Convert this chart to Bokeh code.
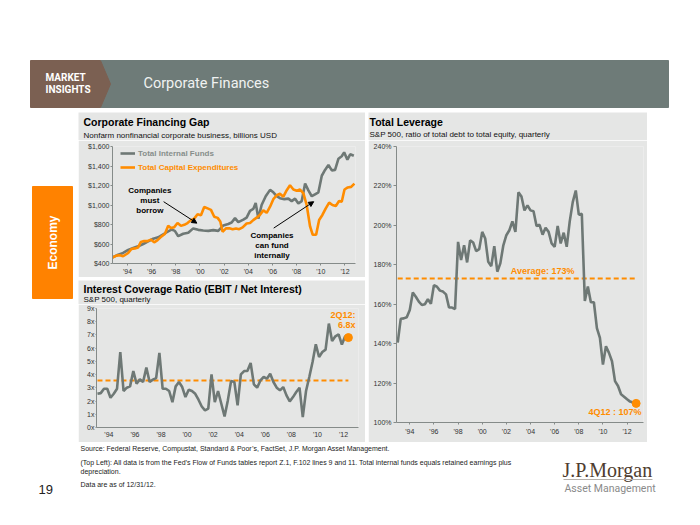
from math import pi
from bokeh.plotting import figure
from bokeh.models import (Range1d, Legend, LegendItem, Arrow, NormalHead, FixedTicker,
                          CustomJSTickFormatter, NumeralTickFormatter, Spacer)
from bokeh.layouts import row, column
from bokeh.core.properties import value
from bokeh.embed import file_html
from bokeh.resources import INLINE

# ---------------- data ----------------
# Corporate Financing Gap (billions USD)
funds_years = [1992.76, 1993.23, 1993.64, 1994.06, 1994.47, 1994.88, 1995.30, 1995.71, 1996.13, 1996.54,
               1996.96, 1997.37, 1997.65, 1997.92, 1998.20, 1998.61, 1999.03, 1999.44, 1999.86, 2000.27,
               2000.69, 2001.10, 2001.51, 2001.93, 2002.34, 2002.62, 2002.90, 2003.17, 2003.59, 2003.86,
               2004.14, 2004.41, 2004.61, 2004.83, 2005.10, 2005.44, 2005.80, 2006.07, 2006.35, 2006.62,
               2006.98, 2007.31, 2007.59, 2007.87, 2008.14, 2008.42, 2008.70, 2008.97, 2009.25, 2009.52,
               2009.80, 2010.08, 2010.35, 2010.63, 2010.91, 2011.18, 2011.46, 2011.73, 2011.93, 2012.20,
               2012.43, 2012.73]
internal_funds = [462, 491, 508, 540, 559, 576, 600, 627, 654, 668,
                  700, 730, 748, 735, 680, 705, 715, 760, 745, 738,
                  735, 742, 735, 790, 805, 820, 865, 825, 850, 870,
                  940, 960, 1020, 860, 1000, 1090, 1155, 1130, 1090, 1070,
                  1060, 1065, 1040, 1065, 1015, 1040, 1220, 1150, 1090, 1110,
                  1130, 1300, 1360, 1410, 1355, 1360, 1475, 1500, 1540, 1465,
                  1520, 1505]
capex_years = [1992.76, 1993.09, 1993.36, 1993.64, 1994.06, 1994.33, 1994.61, 1994.88, 1995.10, 1995.38,
               1995.66, 1995.93, 1996.21, 1996.49, 1996.82, 1997.09, 1997.37, 1997.59, 1997.87, 1998.14,
               1998.42, 1998.70, 1998.97, 1999.25, 1999.52, 1999.80, 2000.08, 2000.35, 2000.63, 2000.91,
               2001.18, 2001.46, 2001.68, 2001.87, 2002.15, 2002.43, 2002.70, 2002.98, 2003.25, 2003.53,
               2003.86, 2004.14, 2004.41, 2004.69, 2004.97, 2005.24, 2005.52, 2005.80, 2006.07, 2006.35,
               2006.62, 2006.90, 2007.18, 2007.45, 2007.73, 2008.01, 2008.28, 2008.56, 2008.83, 2009.11,
               2009.33, 2009.61, 2009.86, 2010.13, 2010.41, 2010.69, 2010.96, 2011.24, 2011.51, 2011.73,
               2011.96, 2012.23, 2012.51, 2012.78]
capex = [462, 481, 485, 474, 508, 549, 555, 565, 620, 630,
         630, 645, 617, 640, 678, 702, 786, 763, 773, 815,
         786, 797, 815, 845, 860, 905, 895, 980, 965, 950,
         880, 868, 830, 725, 760, 762, 752, 760, 752, 770,
         810, 815, 845, 870, 900, 945, 920, 983, 1060, 1100,
         1115, 1085, 1152, 1203, 1159, 1146, 1159, 1119, 1000, 780,
         695, 695, 847, 898, 966, 1024, 1000, 990, 1041, 1034,
         1159, 1180, 1186, 1220]

# Interest coverage ratio, quarterly 1Q93 - 2Q12
coverage_start = 1993
coverage = [2.55, 2.6, 2.93, 2.93, 2.25, 2.55, 2.93, 5.71, 2.76, 3.01,
            3.11, 4.27, 3.31, 3.64, 3.44, 4.53, 3.44, 3.62, 3.74, 5.64,
            2.93, 2.93, 2.76, 1.92, 3.11, 3.44, 3.06, 2.3, 2.86, 2.76,
            2.55, 2.1, 1.59, 1.29, 1.42, 4.02, 1.92, 2.76, 1.8, 0.84,
            2.05, 3.51, 3.44, 1.67, 4.02, 4.27, 4.27, 4.88, 3.26, 3.01,
            3.56, 3.82, 3.69, 4.07, 3.44, 3.01, 2.81, 3.06, 2.43, 1.97,
            2.3, 2.68, 3.01, 0.79, 2.76, 3.82, 4.95, 6.29, 5.33, 5.71,
            5.89, 7.86, 6.55, 6.9, 7.05, 6.27, 6.9, 6.8]
coverage_avg = 3.55

# Total leverage, quarterly 1Q93 - 4Q12
leverage_start = 1993
leverage = [140.5, 152.6, 152.8, 153.4, 157.1, 165.9, 163.8, 161.3, 159.6, 160.0,
            162.5, 160.2, 169.7, 168.9, 166.9, 166.4, 165.0, 158.3, 158.3, 157.6,
            191.6, 182.4, 189.9, 181.2, 192.4, 191.3, 186.9, 187.9, 196.7, 193.3,
            181.5, 179.3, 189.4, 176.5, 180.7, 189.9, 195.0, 197.5, 202.0, 196.7,
            216.8, 214.6, 207.6, 210.1, 207.6, 207.1, 199.7, 200.3, 195.3, 198.8,
            196.7, 190.8, 189.1, 199.7, 190.8, 196.3, 189.1, 202.0, 211.8, 217.7,
            205.4, 205.9, 161.7, 169.0, 161.0, 161.0, 147.9, 142.9, 129.4, 138.7,
            135.3, 131.1, 121.0, 118.5, 114.3, 113.1, 111.8, 110.6, 110.2, 109.7]
leverage_avg = 173

year_ticks = list(range(1994, 2013, 2))

# ---------------- style ----------------
PANEL = "#e5e6e5"
GRAY = "#6e7875"
ORANGE = "#ff8c00"
SLATE = "#6e7b78"
BROWN = "#7b6052"
FONT = "Liberation Sans"


def deco(w, h, x0, x1, y0, y1, bg="white"):
    p = figure(width=w, height=h, x_range=Range1d(x0, x1), y_range=Range1d(y1, y0),
               output_backend="svg", toolbar_location=None, x_axis_type=None, y_axis_type=None,
               min_border=0, outline_line_color=None, background_fill_color=bg, border_fill_color=bg,
               frame_align=False)
    return p


def txt(p, x, y, s, size, color="black", bold=False, font=FONT, align="left", angle=0.0):
    p.text(x=[x], y=[y], text=[s], text_font=value(font), text_font_size=value(size),
           text_color=color, text_font_style="bold" if bold else "normal",
           text_align=align, text_baseline="middle", angle=angle)


def chart(w, h, xr, yr, left, right, top, bottom):
    p = figure(width=w, height=h, x_range=Range1d(*xr), y_range=Range1d(*yr),
               output_backend="svg", toolbar_location=None,
               min_border_left=left, min_border_right=right, min_border_top=top, min_border_bottom=bottom,
               background_fill_color=PANEL, border_fill_color=PANEL, outline_line_color=None,
               frame_align=False)
    p.xgrid.visible = False
    p.ygrid.visible = False
    for ax in (p.xaxis[0], p.yaxis[0]):
        ax.major_label_text_font = FONT
        ax.major_label_text_font_size = "7px"
        ax.major_label_text_color = "#333333"
        ax.axis_line_color = "#858b89"
        ax.major_tick_line_color = "#858b89"
        ax.minor_tick_line_color = None
        ax.major_tick_in = 0
    p.xaxis[0].ticker = FixedTicker(ticks=year_ticks)
    p.xaxis[0].formatter = CustomJSTickFormatter(code="return \"'\" + String(tick).slice(2);")
    p.xaxis[0].major_tick_out = 2
    p.xaxis[0].major_label_standoff = 2
    p.yaxis[0].major_tick_out = 3
    p.yaxis[0].major_label_standoff = 1
    return p


# ---------------- header ----------------
head = deco(692, 112, 0, 692, 0, 112)
head.quad(left=[100], right=[668], top=[60], bottom=[107], color=SLATE)
head.patch(x=[30, 100, 110, 100, 30], y=[60, 60, 83.5, 107, 107], color=BROWN)
txt(head, 45, 77, "MARKET", "10px", "white", True, "Roboto")
txt(head, 45, 89, "INSIGHTS", "10px", "white", True, "Roboto")
txt(head, 143, 83, "Corporate Finances", "14.5px", "#f0f2f1", False, "Roboto")

# ---------------- left strip ----------------
lstrip = deco(78, 330, 0, 78, 112, 442)
lstrip.quad(left=[32], right=[72], top=[186], bottom=[298], color="#ff8200")
txt(lstrip, 52, 242, "Economy", "12px", "white", True, align="center", angle=pi / 2)

# ---------------- chart 1: financing gap ----------------
t1 = deco(287, 28, 78, 365, 112, 140, PANEL)
txt(t1, 83, 121, "Corporate Financing Gap", "10.5px", "black", True)
txt(t1, 83, 134.5, "Nonfarm nonfinancial corporate business, billions USD", "8px", "#111111")

p1 = chart(287, 137, (1992.76, 2012.87), (400, 1600), 34, 10, 6, 13)
p1.yaxis[0].ticker = FixedTicker(ticks=list(range(400, 1601, 200)))
p1.yaxis[0].formatter = NumeralTickFormatter(format="$0,0")
p1.yaxis[0].major_tick_out = 2
r_funds = p1.line(funds_years, internal_funds, line_color=GRAY, line_width=2.6)
r_capex = p1.line(capex_years, capex, line_color=ORANGE, line_width=2.6)
for item, ypos, col in ((LegendItem(label="Total Internal Funds", renderers=[r_funds]), 105, "#878e8b"),
                        (LegendItem(label="Total Capital Expenditures", renderers=[r_capex]), 91, ORANGE)):
    lg = Legend(items=[item], location=(8, ypos), padding=0, margin=0, spacing=0,
                glyph_width=15, glyph_height=10, label_height=10, label_standoff=3,
                label_text_font=FONT, label_text_font_size="8px", label_text_font_style="bold",
                label_text_color=col, border_line_color=None, background_fill_alpha=0)
    p1.add_layout(lg)
borrow_x, borrow_y = [1995.85] * 3, [1152, 1044, 939]
fund_x, fund_y = [2005.96] * 3, [685, 583, 481]
p1.text(x=borrow_x + fund_x, y=borrow_y + fund_y,
        text=["Companies", "must", "borrow", "Companies", "can fund", "internally"],
        text_font=value(FONT), text_font_size=value("8px"), text_font_style="bold",
        text_align="center", text_baseline="middle", text_color="black")
p1.add_layout(Arrow(end=NormalHead(size=5, fill_color="black", line_color="black"),
                    x_start=1996.99, y_start=1034, x_end=1999.74, y_end=814,
                    line_color="black", line_width=1))
p1.add_layout(Arrow(end=NormalHead(size=5, fill_color="black", line_color="black"),
                    x_start=2006.1, y_start=763, x_end=2009.41, y_end=1034,
                    line_color="black", line_width=1))

gap1 = Spacer(width=287, height=3)

# ---------------- chart 2: interest coverage ----------------
t2 = deco(287, 24, 78, 365, 280, 304, PANEL)
txt(t2, 83, 288, "Interest Coverage Ratio (EBIT / Net Interest)", "10.5px", "black", True)
txt(t2, 83, 298.5, "S&P 500, quarterly", "8px", "#111111")

cov_x = [coverage_start + 0.125 + 0.25 * i for i in range(len(coverage))]
p2 = chart(287, 138, (1993.05, 2013.15), (0, 9), 18, 7, 4, 15)
p2.yaxis[0].ticker = FixedTicker(ticks=list(range(0, 10)))
p2.yaxis[0].formatter = CustomJSTickFormatter(code="return tick + 'x';")
p2.yaxis[0].major_tick_out = 1
p2.xaxis[0].major_label_standoff = 3
p2.xaxis[0].major_tick_out = 0
p2.line([cov_x[0], cov_x[-1]], [coverage_avg, coverage_avg], line_color=ORANGE, line_width=2,
        line_dash="5 3")
p2.line(cov_x, coverage, line_color=GRAY, line_width=2.6)
p2.scatter([cov_x[-1]], [coverage[-1]], size=8, color=ORANGE)
p2.text(x=[2012.92, 2012.92], y=[8.49, 7.73], text=["2Q12:", "%.1fx" % coverage[-1]],
        text_font=value(FONT), text_font_size=value("9px"), text_font_style="bold",
        text_align="right", text_baseline="middle", text_color=ORANGE)

gap2 = Spacer(width=3, height=330)

# ---------------- chart 3: total leverage ----------------
t3 = deco(279, 28, 368, 647, 112, 140, PANEL)
txt(t3, 369, 121, "Total Leverage", "10.5px", "black", True)
txt(t3, 369, 133.5, "S&P 500, ratio of total debt to total equity, quarterly", "8px", "#111111")

lev_x = [leverage_start + 0.25 * i for i in range(len(leverage))]
p3 = chart(279, 302, (1992.9, 2013.36), (100, 240), 28, 4, 6, 20)
p3.yaxis[0].ticker = FixedTicker(ticks=list(range(100, 241, 20)))
p3.yaxis[0].formatter = CustomJSTickFormatter(code="return tick + '%';")
p3.yaxis[0].major_label_standoff = 2
p3.xaxis[0].major_label_standoff = 3
p3.line([lev_x[0], lev_x[-1]], [leverage_avg, leverage_avg], line_color=ORANGE, line_width=2,
        line_dash="5 3")
p3.line(lev_x, leverage, line_color=GRAY, line_width=2.6)
p3.scatter([lev_x[-1]], [leverage[-1]], size=8, color=ORANGE)
p3.text(x=[2005.0], y=[174.2], text=["Average: %d%%" % leverage_avg],
        text_font=value(FONT), text_font_size=value("9px"), text_font_style="bold",
        text_align="center", text_baseline="bottom", text_color=ORANGE)
p3.text(x=[2013.2], y=[105.2], text=["4Q12 : 107%"],
        text_font=value(FONT), text_font_size=value("9px"), text_font_style="bold",
        text_align="right", text_baseline="middle", text_color=ORANGE)

rstrip = Spacer(width=45, height=330)

# ---------------- footer ----------------
foot = deco(692, 75, 0, 692, 442, 517)
notes = ["Source: Federal Reserve, Compustat, Standard & Poor\u2019s, FactSet, J.P. Morgan Asset Management.",
         "(Top Left): All data is from the Fed\u2019s Flow of Funds tables report Z.1, F.102 lines 9 and 11. "
         "Total internal funds equals retained earnings plus",
         "depreciation.",
         "Data are as of 12/31/12."]
for s, yy in zip(notes, [448, 462, 471, 484]):
    txt(foot, 80, yy, s, "7px", "#222222")
txt(foot, 38, 489, "19", "13px", "#222222")
txt(foot, 562, 469, "J.P.Morgan", "20px", "#4f3d30", False, "Liberation Serif")
foot.line([563, 652], [479, 479], line_color="#b5b0ab", line_width=1)
txt(foot, 564, 488, "Asset Management", "10.5px", "#8a8a8a", False, "Roboto")

layout = column(
    head,
    row(lstrip,
        column(t1, p1, gap1, t2, p2),
        gap2,
        column(t3, p3),
        rstrip),
    foot,
)

open("out.html", "w").write(file_html(layout, INLINE))
